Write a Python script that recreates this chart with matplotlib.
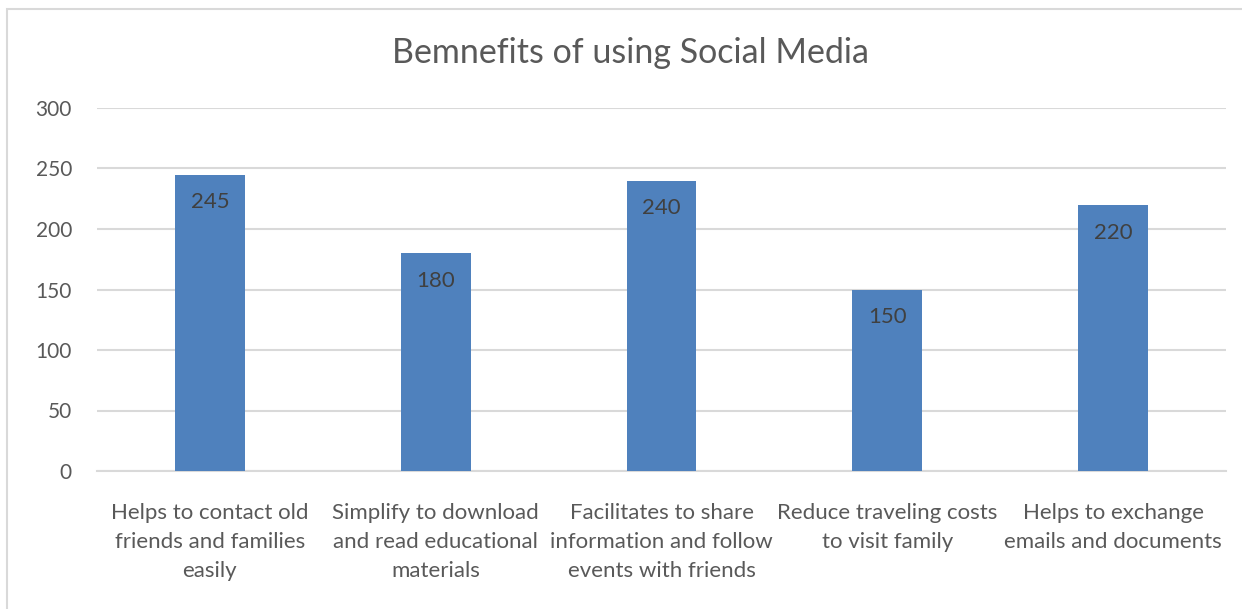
import matplotlib
matplotlib.use("Agg")
import matplotlib.pyplot as plt
from matplotlib.patches import Rectangle

plt.rcParams['font.family'] = ['Lato', 'DejaVu Sans']

categories = [
    "Helps to contact old\nfriends and families\neasily",
    "Simplify to download\nand read educational\nmaterials",
    "Facilitates to share\ninformation and follow\nevents with friends",
    "Reduce traveling costs\nto visit family",
    "Helps to exchange\nemails and documents",
]
values = [245, 180, 240, 150, 220]
yticks = [0, 50, 100, 150, 200, 250, 300]
title = "Bemnefits of using Social Media"

bar_color = "#4f81bd"
text_color = "#595959"
grid_color = "#d9d9d9"

fig = plt.figure(figsize=(12.42, 6.09), dpi=100)
# outer chart frame
fig.patches.append(Rectangle((7 / 1242, -0.02), 1.1, 1 - 9 / 609 + 0.02,
                             transform=fig.transFigure, fill=False,
                             edgecolor="#d9d9d9", linewidth=1.5))
ax = fig.add_axes([97 / 1242, 1 - 471 / 609, (1226 - 97) / 1242, (471 - 108) / 609])

x = range(len(values))
bars = ax.bar(x, values, width=0.31, color=bar_color, zorder=3)
for xi, v in zip(x, values):
    ax.text(xi, v - 23, str(v), ha="center", va="center", fontsize=16, color="#404040", zorder=4)

ax.set_xlim(-0.5, len(values) - 0.5)
ax.set_ylim(0, 300)
ax.set_yticks(yticks)
ax.set_yticklabels([str(t) for t in yticks], fontsize=15, color=text_color)
ax.set_xticks(list(x))
ax.set_xticklabels(categories, fontsize=16, color=text_color, linespacing=1.55)
ax.tick_params(axis="both", length=0)
ax.tick_params(axis="y", pad=18)
ax.tick_params(axis="x", pad=23)
ax.yaxis.grid(True, color=grid_color, linewidth=1.5, zorder=0)
for s in ["top", "right", "left"]:
    ax.spines[s].set_visible(False)
ax.spines["bottom"].set_color(grid_color)
ax.spines["bottom"].set_linewidth(1.5)

fig.text(630 / 1242, 1 - 53 / 609, title, ha="center", va="center", fontsize=24.5, color=text_color)

fig.savefig("out.png", dpi=100)
